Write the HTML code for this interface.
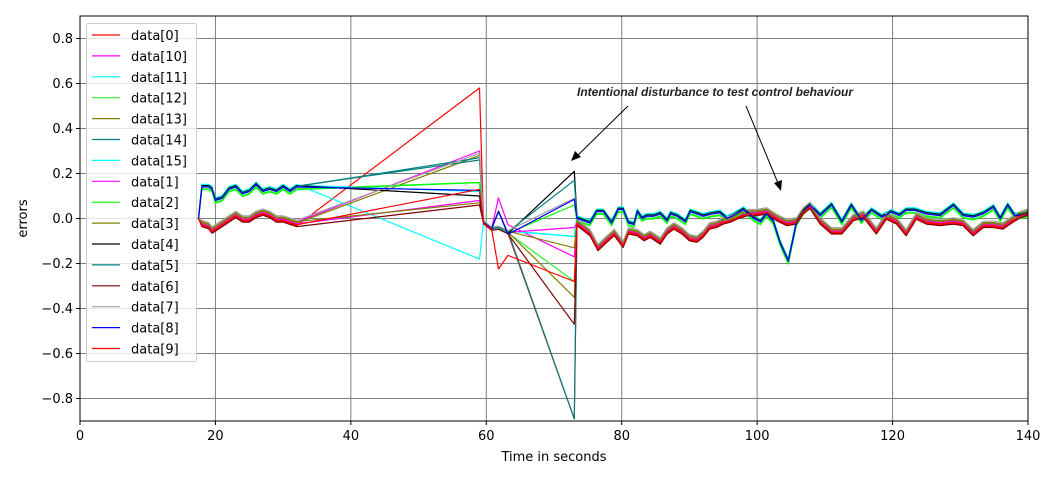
<!DOCTYPE html>
<html><head><meta charset="utf-8"><style>
body{margin:0;background:#fff;}
svg{display:block;font-family:"DejaVu Sans","Liberation Sans",sans-serif;}
</style></head><body>
<svg id="chart" width="1058" height="481">
<g id="grid"></g>
<g id="series"></g>
<g id="axes"></g>
<g id="legend"></g>
<g>
<text x="577" y="96" font-size="12" font-weight="bold" font-style="italic" fill="#222" font-family="Liberation Sans, sans-serif">Intentional disturbance to test control behaviour</text>
<line x1="628" y1="106" x2="574" y2="159" stroke="#000" stroke-width="1"/>
<polygon points="571,161 575,151 581,157" fill="#000"/>
<line x1="746" y1="106" x2="780" y2="188" stroke="#000" stroke-width="1"/>
<polygon points="781,191 774,183 782,180" fill="#000"/>
</g>
</svg>
<script>
// Region A (start) shapes
const tA=[17.5,18,19,19.5,20,21,22,23,24,25,26,27,28,29,30,31,32];
const highA=[0,0.14,0.14,0.13,0.08,0.09,0.13,0.14,0.11,0.12,0.15,0.12,0.13,0.12,0.14,0.12,0.14];
const lowA=[0,-0.02,-0.03,-0.05,-0.04,-0.02,0.0,0.02,0.0,0.0,0.02,0.03,0.02,0.0,0.0,-0.01,-0.02];
// Region B (after t=59)
const tB=[59.6,60.8,61.8,63.2];
const bDefault=[-0.016,-0.045,-0.04,-0.06];
const bHigh=[-0.016,-0.045,0.03,-0.07];
const bMagenta=[-0.016,-0.045,0.09,-0.03];
const bRed=[-0.016,-0.045,-0.22,-0.16];
// Region C shapes
const tCH=[73.4,75.3,76.3,77.3,78.5,79.5,80.2,81,81.8,82.3,83,83.7,84.7,85.7,86.7,87.2,88.2,89.4,90.1,91.1,92,93.3,94.5,95.5,96.5,98,99.5,100.5,101.4,102.4,103.4,104.6,105.8,106.8,107.8,109.3,111,112.5,113.9,115.4,116.9,118.4,119.8,121,122,123.3,125,127,129,130.4,131.9,133.4,134.9,135.9,137,138,139,140];
const highC=[0,-0.02,0.03,0.03,-0.02,0.04,0.04,-0.02,-0.027,0.03,0,0.01,0.01,0.02,-0.01,0.02,0.01,-0.015,0.03,0.02,0.01,0.02,0.025,0,0.013,0.04,0,-0.015,0.02,-0.015,-0.11,-0.19,-0.02,0.03,0.06,0.013,0.06,-0.016,0.058,-0.01,0.036,0.006,0.028,0.013,0.036,0.036,0.02,0.013,0.058,0.013,0.006,0.021,0.05,-0.001,0.058,0.013,0.013,0.02];
const tCL=[73.4,75.3,76.5,77.5,78.9,80.2,81,82.3,83.3,84.2,85.7,86.7,87.7,88.9,90,91.1,92,93,94,95,96,97,98.5,99.9,101.4,102.9,104.4,105.8,106.8,107.8,109.3,111,112.5,114.2,115.7,117.6,119.1,120.6,122,123.5,125,127,129,130.4,131.9,133.4,134.9,136.3,137.8,139,140];
const lowC=[-0.016,-0.06,-0.127,-0.098,-0.06,-0.113,-0.053,-0.061,-0.083,-0.068,-0.098,-0.053,-0.031,-0.053,-0.083,-0.09,-0.068,-0.031,-0.024,-0.009,-0.001,0.013,0.028,0.028,0.036,0.006,-0.016,-0.009,0.036,0.06,-0.009,-0.053,-0.053,0.006,0.021,-0.053,0.013,-0.009,-0.061,0.013,-0.009,-0.016,-0.009,-0.016,-0.061,-0.024,-0.024,-0.031,0.0,0.021,0.03];
// per-series values
const names=["data[0]","data[10]","data[11]","data[12]","data[13]","data[14]","data[15]","data[1]","data[2]","data[3]","data[4]","data[5]","data[6]","data[7]","data[8]","data[9]"];
const colors=["#ff0000","#ff00ff","#00ffff","#33ee33","#808000","#008080","#00ffff","#ff00ff","#00ff00","#808000","#000000","#008080","#800000","#a0a0a0","#0000ff","#ff0000"];
const groups=["low","low","high","high","low","high","high","low","high","low","high","high","low","low","high","low"];
const offsets=[-0.012,0.004,0.012,-0.008,0.0,0.004,0.008,-0.004,-0.012,0.006,0.006,0.002,-0.016,0.012,0.0,-0.008];
const v59=[0.58,0.30,-0.18,0.16,0.28,0.26,0.12,0.08,0.16,0.07,0.10,0.27,0.06,0.29,0.125,0.13];
const bKind=["d","m","d","d","d","d","d","d","d","d","h","d","d","d","h","r"];
const v73=[-0.89,-0.17,-0.08,-0.28,-0.35,-0.89,-0.08,-0.04,0.06,-0.13,0.21,0.17,-0.47,0.09,0.085,-0.28];
const xTicks=[0,20,40,60,80,100,120,140];
const yTicks=[-0.8,-0.6,-0.4,-0.2,0.0,0.2,0.4,0.6,0.8];

const L=80,R=1028,T=16,B=421;
const X=t=>L+(t-0)/(140-0)*(R-L);
const Y=v=>B-(v+0.9)/1.8*(B-T);
const NS="http://www.w3.org/2000/svg";
function mk(tag,attrs,parent){const e=document.createElementNS(NS,tag);for(const k in attrs)e.setAttribute(k,attrs[k]);parent.appendChild(e);return e;}
const grid=document.getElementById('grid'),axes=document.getElementById('axes'),ser=document.getElementById('series'),leg=document.getElementById('legend');
xTicks.forEach(t=>{
  const g=mk('line',{x1:X(t),x2:X(t),y1:T,y2:B,stroke:'#808080','stroke-width':1},grid);
  
  
  const tk=mk('line',{x1:X(t),x2:X(t),y1:B,y2:B+4,stroke:'#000'},axes);
  
  
  const lb=mk('text',{x:X(t),y:B+19,'text-anchor':'middle','font-size':13},axes);
  lb.textContent=String(t);
  
  
});
yTicks.forEach(v=>{
  const g=mk('line',{x1:L,x2:R,y1:Y(v),y2:Y(v),stroke:'#808080','stroke-width':1},grid);
  
  
  const tk=mk('line',{x1:L-4,x2:L,y1:Y(v),y2:Y(v),stroke:'#000'},axes);
  
  
  const lb=mk('text',{x:L-7,y:Y(v)+4.5,'text-anchor':'end','font-size':13},axes);
  lb.textContent=(v<0?'\u22120':'0')+'.'+Math.round(Math.abs(v)*10);
  
  
});
const fr=mk('rect',{x:L,y:T,width:R-L,height:B-T,fill:'none',stroke:'#000','stroke-width':1},axes);


const xt=mk('text',{x:(L+R)/2,y:461,'text-anchor':'middle','font-size':13},axes);
xt.textContent='Time in seconds';


const yt=mk('text',{x:0,y:0,'text-anchor':'middle','font-size':13,transform:'translate(27,'+((T+B)/2)+') rotate(-90)'},axes);
yt.textContent='errors';



names.forEach((n,i)=>{
  const hi=groups[i]==='high';
  const o=offsets[i];
  const pts=[];
  const a=hi?highA:lowA;
  tA.forEach((t,j)=>pts.push([t,a[j]+(j>0?o:0)]));
  pts.push([59,v59[i]]);
  const b=bKind[i]==='h'?bHigh:bKind[i]==='m'?bMagenta:bKind[i]==='r'?bRed:bDefault;
  tB.forEach((t,j)=>pts.push([t,b[j]+o*0.5]));
  pts.push([73,v73[i]]);
  const tc=hi?tCH:tCL, c=hi?highC:lowC;
  tc.forEach((t,j)=>pts.push([t,c[j]+o]));
  const p=mk('polyline',{points:pts.map(q=>X(q[0]).toFixed(1)+','+Y(q[1]).toFixed(1)).join(' '),fill:'none',stroke:colors[i],'stroke-width':1.2,'stroke-linejoin':'round'},ser);
  
  
});
// legend
const lb=mk('rect',{x:86.5,y:23.5,width:110,height:338,fill:'#fff','fill-opacity':0.8,stroke:'#ccc',rx:2},leg);


names.forEach((n,i)=>{
  const y=35+i*20.9;
  const ln=mk('line',{x1:92,x2:120,y1:y,y2:y,stroke:colors[i],'stroke-width':1.2},leg);
  
  
  const tx=mk('text',{x:131,y:y+5,'font-size':13},leg);
  tx.textContent=n;
  
  
});
</script>
</body></html>
